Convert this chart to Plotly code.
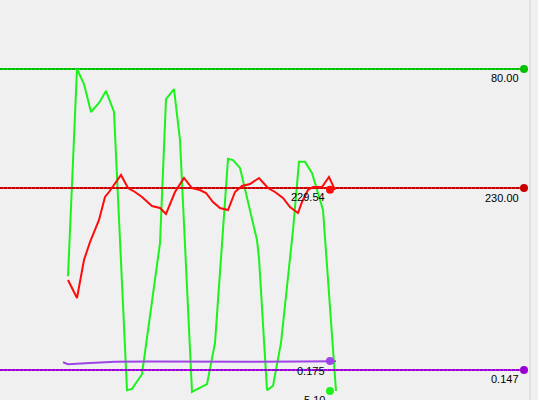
import plotly.graph_objects as go

# ---------------- data ----------------
# time axis (s)
t_green = [68, 77, 84, 91, 99, 106, 114, 127, 132, 142, 160, 166, 174, 180, 192, 198, 207, 215, 228,
           233, 240, 257, 259, 267, 273, 281, 293, 299, 305, 312, 323, 336]
green = [31.8, 80.0, 76.5, 70.0, 72.1, 74.9, 70.0, 5.3, 5.6, 9.0, 39.5, 73.0, 75.3, 63.5, 4.9, 5.6, 6.7,
         16.3, 59.1, 58.8, 57.0, 40.2, 36.0, 5.3, 6.3, 16.3, 42.5, 58.4, 58.4, 55.8, 47.2, 5.1]

t_red = [68, 77, 84, 90, 99, 105, 109, 121, 128, 135, 142, 152, 160, 166, 175, 184, 192, 200, 206, 213,
         220, 228, 235, 242, 250, 259, 268, 275, 283, 290, 298, 302, 308, 313, 322, 329, 335]
red = [207.0, 202.5, 212.0, 216.5, 222.0, 227.75, 229.0, 233.25, 230.0, 229.0, 227.75, 225.5, 225.0,
       223.5, 229.0, 232.5, 230.0, 229.5, 228.75, 226.5, 225.0, 224.5, 229.0, 230.5, 231.0, 232.5, 230.0,
       229.0, 227.5, 225.25, 223.75, 226.5, 229.5, 230.25, 230.25, 232.75, 229.54]

t_purple = [63, 68, 90, 115, 150, 200, 250, 300, 336]
purple = [0.1709, 0.1647, 0.1688, 0.1728, 0.1734, 0.1719, 0.1725, 0.1734, 0.1744]

# reference levels and current values
ref_green, ref_red, ref_purple = 80.0, 230.0, 0.147
cur_green, cur_red, cur_purple = 5.10, 229.54, 0.175
ref_labels = ["80.00", "230.00", "0.147"]
cur_labels = ["5.10", "229.54", "0.175"]
ref_t = [0, 524]
cur_t = 330
x_range = [0, 538]
green_range = [3.01, 96.05]
red_range = [177.0, 277.0]
purple_range = [0.0536, 1.2982]

# ---------------- style ----------------
BG = "#f0f0f0"
C_GREEN_REF, C_GREEN = "#00c000", "#1cf21c"
C_RED_REF, C_RED = "#c80000", "#ff0a0a"
C_PURP_REF, C_PURP = "#9a00d6", "#9e44e6"
FONT = dict(family="Liberation Sans, Arial, sans-serif", size=11, color="#000000")

fig = go.Figure()

def ref_line(y, axis, color):
    fig.add_trace(go.Scatter(x=ref_t, y=[y, y], yaxis=axis, mode="lines",
                             line=dict(color=color, width=2), opacity=0.8,
                             hoverinfo="skip", showlegend=False))
    fig.add_trace(go.Scatter(x=ref_t, y=[y, y], yaxis=axis, mode="lines",
                             line=dict(color=color, width=2, dash="3px,1px"),
                             hoverinfo="skip", showlegend=False))
    fig.add_trace(go.Scatter(x=[ref_t[1]], y=[y], yaxis=axis, mode="markers",
                             marker=dict(color=color, size=8),
                             hoverinfo="skip", showlegend=False))

ref_line(ref_green, "y", C_GREEN_REF)
ref_line(ref_red, "y2", C_RED_REF)
ref_line(ref_purple, "y3", C_PURP_REF)

fig.add_trace(go.Scatter(x=t_purple, y=purple, yaxis="y3", mode="lines",
                         line=dict(color=C_PURP, width=2), showlegend=False))
fig.add_trace(go.Scatter(x=t_green, y=green, yaxis="y", mode="lines",
                         line=dict(color=C_GREEN, width=2), showlegend=False))
fig.add_trace(go.Scatter(x=t_red, y=red, yaxis="y2", mode="lines",
                         line=dict(color=C_RED, width=2), showlegend=False))

for y, axis, color in [(cur_green, "y", C_GREEN), (cur_red, "y2", C_RED), (cur_purple, "y3", C_PURP)]:
    fig.add_trace(go.Scatter(x=[cur_t], y=[y], yaxis=axis, mode="markers",
                             marker=dict(color=color, size=8),
                             hoverinfo="skip", showlegend=False))

annos = []
for txt, y, ref, shift in zip(ref_labels, [ref_green, ref_red, ref_purple], ["y", "y2", "y3"], [-8.5, -9.5, -9]):
    annos.append(dict(x=521, y=y, xref="x", yref=ref, text=txt, showarrow=False,
                      xanchor="right", yanchor="middle", yshift=shift, font=FONT))
for txt, y, ref, shift in zip(cur_labels, [cur_green, cur_red, cur_purple], ["y", "y2", "y3"], [-9, -7, -10.5]):
    annos.append(dict(x=327, y=y, xref="x", yref=ref, text=txt, showarrow=False,
                      xanchor="right", yanchor="middle", yshift=shift, font=FONT))

ax_common = dict(visible=False, showgrid=False, zeroline=False, fixedrange=True)
fig.update_layout(
    width=538, height=400,
    margin=dict(l=0, r=0, t=0, b=0),
    paper_bgcolor=BG, plot_bgcolor=BG,
    xaxis=dict(range=x_range, **ax_common),
    yaxis=dict(range=green_range, **ax_common),
    yaxis2=dict(range=red_range, overlaying="y", **ax_common),
    yaxis3=dict(range=purple_range, overlaying="y", **ax_common),
    shapes=[dict(type="line", xref="x", yref="paper", x0=530, x1=530, y0=0, y1=1,
                 line=dict(color="#d2d2d2", width=1))],
    annotations=annos,
    showlegend=False,
)

fig.write_html("out.html", config={"displayModeBar": False},
               post_script="document.body.style.margin='0';document.body.style.overflow='hidden';document.body.style.background='#f0f0f0';")
